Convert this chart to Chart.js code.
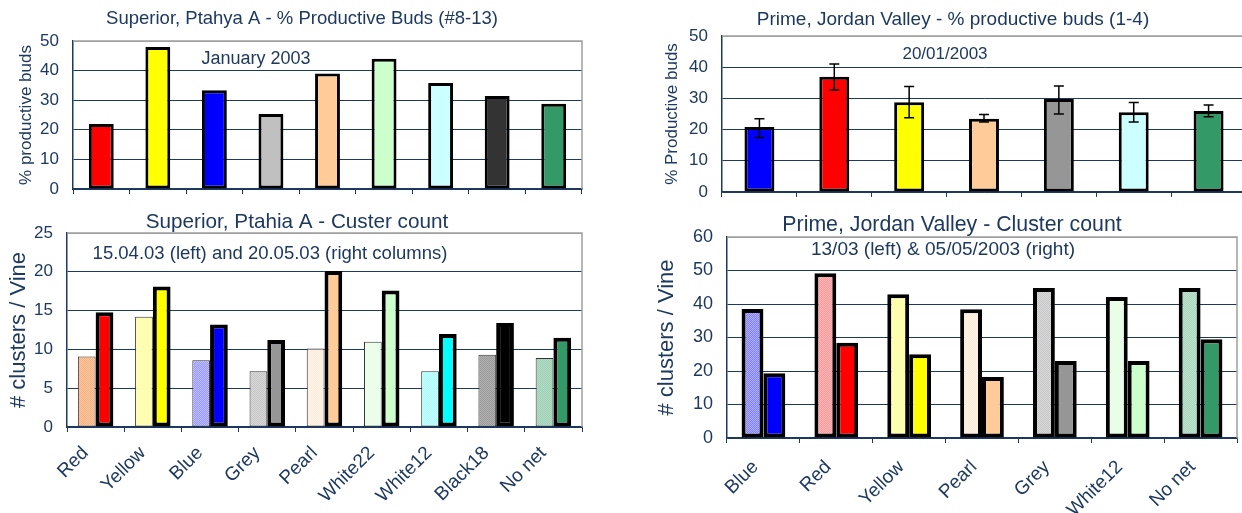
<!DOCTYPE html>
<html lang="en">
<head>
    <meta charset="UTF-8">
    <title>Net colour trials - buds and clusters</title>
    <script src="https://cdn.jsdelivr.net/npm/chart.js"></script>
    <style>
        * { margin: 0; padding: 0; box-sizing: border-box; }
        body {
            width: 1242px;
            height: 513px;
            overflow: hidden;
            background: #fff;
            position: relative;
        }
        canvas { position: absolute; }
        #budsA { left: 0; top: 0; }
        #clustersB { left: 0; top: 200px; }
        #budsC { left: 660px; top: 0; }
        #clustersD { left: 652px; top: 200px; }
    </style>
</head>
<body>
    <canvas id="budsA" width="604" height="200"></canvas>
    <canvas id="clustersB" width="594" height="313"></canvas>
    <canvas id="budsC" width="586" height="200"></canvas>
    <canvas id="clustersD" width="600" height="313"></canvas>

    <script>
        // Superior, Ptahya A
        const netsSuperior = ['Red', 'Yellow', 'Blue', 'Grey', 'Pearl', 'White22', 'White12', 'Black18', 'No net'];
        const budsSuperior = [22, 48, 33.4, 25.3, 39, 44, 35.8, 31.4, 28.8];
        const clustersApr = [9.1, 14.2, 8.6, 7.2, 10.1, 11.0, 7.2, 9.3, 8.9];
        const clustersMay = [14.8, 18.1, 13.2, 11.2, 20.1, 17.6, 12.0, 13.4, 11.5];

        // Prime, Jordan Valley
        const netsPrime = ['Blue', 'Red', 'Yellow', 'Pearl', 'Grey', 'White12', 'No net'];
        const budsPrime = [20.8, 36.9, 28.8, 23.5, 29.8, 25.6, 26.0];
        const budsPrimeLow = [17.5, 32.7, 23.8, 22.4, 25.0, 22.4, 24.1];
        const budsPrimeHigh = [23.5, 41.0, 33.8, 24.8, 34.0, 28.7, 27.9];
        const clustersMar = [38.5, 49.2, 42.9, 38.4, 44.8, 42.1, 44.8];
        const clustersMayPrime = [19.3, 28.4, 25.0, 18.2, 23.0, 23.0, 29.5];

        const NAVY = '#1d3960';
        const FRAME = '#a0a0a0';

        Chart.defaults.font.family = "'Liberation Sans', Arial, sans-serif";
        Chart.defaults.color = NAVY;
        Chart.defaults.animation = false;

        // small checker fill used for the "early count" columns
        function checker(c1, c2) {
            const cv = document.createElement('canvas');
            cv.width = cv.height = 2;
            const g = cv.getContext('2d');
            g.fillStyle = c1;
            g.fillRect(0, 0, 2, 2);
            g.fillStyle = c2;
            g.fillRect(0, 0, 1, 1);
            g.fillRect(1, 1, 1, 1);
            return g.createPattern(cv, 'repeat');
        }

        // grey top + right border of the plot area, plus the titles and date notes
        const frame = {
            id: 'frame',
            afterDraw(chart, args, opts) {
                const a = chart.chartArea, g = chart.ctx;
                g.save();
                g.strokeStyle = FRAME;
                g.lineWidth = 1.5;
                g.beginPath();
                g.moveTo(a.left, a.top);
                g.lineTo(a.right, a.top);
                g.lineTo(a.right, a.bottom);
                g.stroke();
                (opts.notes || []).forEach(n => {
                    g.font = n.size + "px 'Liberation Sans', Arial, sans-serif";
                    g.fillStyle = NAVY;
                    g.textAlign = 'center';
                    g.textBaseline = 'middle';
                    g.fillText(n.text, n.x, n.y);
                });
                g.restore();
            }
        };

        const errorBars = {
            id: 'errorBars',
            afterDatasetsDraw(chart, args, opts) {
                if (!opts.low) return;
                const y = chart.scales.y, g = chart.ctx;
                g.save();
                g.strokeStyle = '#000';
                g.lineWidth = 1.5;
                chart.getDatasetMeta(0).data.forEach((bar, i) => {
                    const top = y.getPixelForValue(opts.high[i]);
                    const bot = y.getPixelForValue(opts.low[i]);
                    g.beginPath();
                    g.moveTo(bar.x, top); g.lineTo(bar.x, bot);
                    g.moveTo(bar.x - 5, top); g.lineTo(bar.x + 5, top);
                    g.moveTo(bar.x - 5, bot); g.lineTo(bar.x + 5, bot);
                    g.stroke();
                });
                g.restore();
            }
        };

        Chart.register(frame, errorBars);

        function yAxis(max, step, label, width, labelSize, labelPad, tickSize) {
            return {
                min: 0, max: max,
                afterFit: s => { s.width = width; s.paddingBottom = 0; },
                ticks: { stepSize: step, padding: 14, font: { size: tickSize } },
                grid: {
                    drawTicks: false,
                    color: c => c.tick && c.tick.value === max ? FRAME : NAVY
                },
                border: { color: NAVY, width: 1.5 },
                title: {
                    display: true, text: label, color: NAVY,
                    font: { size: labelSize }, padding: { top: labelPad, bottom: 0 }
                }
            };
        }

        function xAxis(height, showLabels, fontSize, pad, shift) {
            return {
                afterFit: s => { s.height = height; },
                grid: { drawOnChartArea: false, tickLength: 5, color: NAVY, offset: true },
                border: { color: NAVY, width: 1.5 },
                ticks: {
                    display: showLabels, minRotation: 45, maxRotation: 45,
                    font: { size: fontSize }, padding: pad, labelOffset: shift
                }
            };
        }

        const noKey = { legend: { display: false }, tooltip: { enabled: false } };

        // --- Superior: % productive buds
        new Chart(document.getElementById('budsA'), {
            type: 'bar',
            data: {
                labels: netsSuperior,
                datasets: [{
                    data: budsSuperior,
                    backgroundColor: ['#ff0000', '#ffff00', '#0000ff', '#c0c0c0', '#ffcc99', '#ccffcc', '#ccffff', '#333333', '#339966'],
                    borderColor: '#000', borderWidth: 3, borderSkipped: false,
                    categoryPercentage: 1, barPercentage: 0.44
                }]
            },
            options: {
                responsive: false,
                layout: { padding: { top: 41, right: 22, bottom: 0, left: 0 } },
                plugins: {
                    ...noKey,
                    frame: { notes: [
                        { text: 'Superior, Ptahya A - % Productive Buds (#8-13)', x: 302, y: 19, size: 18.5 },
                        { text: 'January 2003', x: 256, y: 59, size: 18 }
                    ] }
                },
                scales: {
                    x: xAxis(11, false, 16, 0, 0),
                    y: yAxis(50, 10, '% productive buds', 73, 17, 16, 17)
                }
            }
        });

        // --- Superior: cluster count, two dates
        new Chart(document.getElementById('clustersB'), {
            type: 'bar',
            data: {
                labels: netsSuperior,
                datasets: [{
                    data: clustersApr,
                    backgroundColor: [
                        checker('#ffc8a0', '#ffae80'), checker('#ffff99', '#ffffcc'), checker('#9999ff', '#bdbdff'),
                        checker('#d9d9d9', '#c4c4c4'), checker('#ffebd7', '#fff5ec'), checker('#f0fff0', '#e4ffe4'),
                        checker('#a6ffff', '#ccffff'), checker('#b2b2b2', '#999999'), checker('#b3dcc6', '#9fcfb5')
                    ],
                    borderColor: '#333', borderWidth: 1, borderSkipped: false
                }, {
                    data: clustersMay,
                    backgroundColor: ['#ff0000', '#ffff00', '#0000ff', '#969696', '#ffcc99', '#ccffcc', '#00ffff', '#000000', '#339966'],
                    borderColor: '#000', borderWidth: 4, borderSkipped: false
                }]
            },
            options: {
                responsive: false,
                datasets: { bar: { categoryPercentage: 0.62, barPercentage: 1 } },
                layout: { padding: { top: 33, right: 12, bottom: 0, left: 0 } },
                plugins: {
                    ...noKey,
                    frame: { notes: [
                        { text: 'Superior, Ptahia A - Custer count', x: 297, y: 22, size: 20.7 },
                        { text: '15.04.03 (left) and 20.05.03 (right columns)', x: 270, y: 54, size: 18.5 }
                    ] }
                },
                scales: {
                    x: xAxis(86, true, 19, 10, -10),
                    y: yAxis(25, 5, '# clusters / Vine', 67, 22, 6, 17)
                }
            }
        });

        // --- Prime: % productive buds with error bars
        new Chart(document.getElementById('budsC'), {
            type: 'bar',
            data: {
                labels: netsPrime,
                datasets: [{
                    data: budsPrime,
                    backgroundColor: ['#0000ff', '#ff0000', '#ffff00', '#ffcc99', '#969696', '#ccffff', '#339966'],
                    borderColor: '#000', borderWidth: 3, borderSkipped: false,
                    categoryPercentage: 1, barPercentage: 0.4
                }]
            },
            options: {
                responsive: false,
                layout: { padding: { top: 36, right: 0, bottom: 0, left: 0 } },
                plugins: {
                    ...noKey,
                    frame: { notes: [
                        { text: 'Prime, Jordan Valley - % productive buds (1-4)', x: 293, y: 20, size: 19 },
                        { text: '20/01/2003', x: 285, y: 54, size: 17 }
                    ] },
                    errorBars: { low: budsPrimeLow, high: budsPrimeHigh }
                },
                scales: {
                    x: xAxis(8, false, 16, 0, 0),
                    y: yAxis(50, 10, '% Productive buds', 62, 17, 2, 17)
                }
            }
        });

        // --- Prime: cluster count, two dates
        new Chart(document.getElementById('clustersD'), {
            type: 'bar',
            data: {
                labels: netsPrime,
                datasets: [{
                    data: clustersMar,
                    backgroundColor: [
                        checker('#8080ff', '#b0b0ff'), checker('#ff9999', '#ffb8b8'), checker('#ffff99', '#ffffc4'),
                        checker('#ffead5', '#fff4ea'), checker('#d9d9d9', '#c6c6c6'), checker('#eeffee', '#e2ffe2'),
                        checker('#a8d5bd', '#bfe2cf')
                    ],
                    borderColor: '#000', borderWidth: 4, borderSkipped: false
                }, {
                    data: clustersMayPrime,
                    backgroundColor: ['#0000ff', '#ff0000', '#ffff00', '#ffcc99', '#969696', '#ccffcc', '#339966'],
                    borderColor: '#000', borderWidth: 4, borderSkipped: false
                }]
            },
            options: {
                responsive: false,
                datasets: { bar: { categoryPercentage: 0.6, barPercentage: 1 } },
                layout: { padding: { top: 37, right: 15, bottom: 0, left: 0 } },
                plugins: {
                    ...noKey,
                    frame: { notes: [
                        { text: 'Prime, Jordan Valley - Cluster count', x: 300, y: 25, size: 21.3 },
                        { text: '13/03 (left) & 05/05/2003 (right)', x: 291, y: 50, size: 19 }
                    ] }
                },
                scales: {
                    x: xAxis(75, true, 19, 13, -8),
                    y: yAxis(60, 10, '# clusters / Vine', 75, 22, 2, 18)
                }
            }
        });
    </script>
</body>
</html>
